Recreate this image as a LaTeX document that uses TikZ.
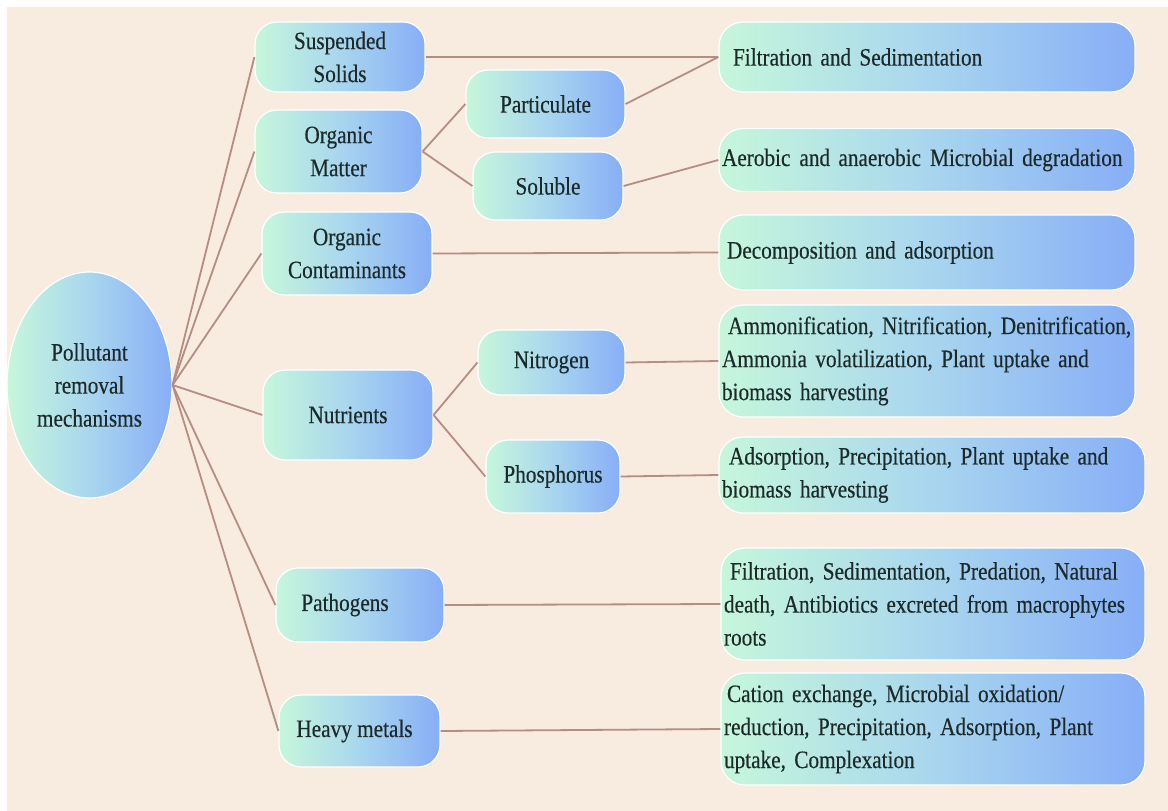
\documentclass[tikz,border=0pt]{standalone}
\usepackage{fontspec}
\setmainfont{Liberation Serif}[FakeStretch=0.85, FakeBold=0.4]
\usetikzlibrary{shapes.geometric}
\definecolor{paper}{HTML}{F8EBDF}
\definecolor{mint}{HTML}{C6F7DB}
\definecolor{sky}{HTML}{A9D6EE}
\definecolor{cornflower}{HTML}{87AEF7}
\definecolor{ink}{HTML}{1C2B2A}
\definecolor{twig}{HTML}{B68D82}
\newcommand{\boxfont}{\fontsize{25}{33}\selectfont}
\newcommand{\oneline}[1]{\mbox{#1}}
\tikzset{
  shade/.style={left color=mint, right color=cornflower, middle color=sky},
  topic/.style={shade, draw=white, line width=1.2pt, rounded corners=22pt,
    inner sep=0pt, align=center, text=ink, font=\boxfont},
  result/.style={shade, draw=white, line width=1.2pt, rounded corners=24pt,
    inner xsep=3pt, inner ysep=0pt, align=left, text=ink, font=\boxfont},
  hub/.style={shade, draw=white, line width=1.2pt, ellipse, inner sep=0pt,
    minimum width=165pt, minimum height=226pt, align=center, text=ink, font=\boxfont},
  link/.style={draw=twig, line width=1.8pt},
}
\begin{document}
\begin{tikzpicture}[x=1pt, y=-1pt]
  % page and paper
  \fill[white] (0,0) rectangle (1168,811);
  \fill[paper] (7,7) rectangle (1168,811);
  \useasboundingbox (0,0) rectangle (1168,811);

  % centre
  \node[hub] (root) at (89.5,385) {Pollutant\\removal\\mechanisms};

  % pollutant groups
  \node[topic, minimum width=170pt, minimum height=70pt] (ss) at (340,57) {Suspended\\Solids};
  \node[topic, minimum width=167pt, minimum height=83pt] (om) at (338.5,151.5) {Organic\\Matter};
  \node[topic, minimum width=170pt, minimum height=83pt] (oc) at (347,253.5) {Organic\\Contaminants};
  \node[topic, minimum width=170pt, minimum height=90pt] (nu) at (348,415) {Nutrients};
  \node[topic, minimum width=168pt, minimum height=74pt] (pa) at (360,605) {\hspace*{-30pt}Pathogens};
  \node[topic, minimum width=161pt, minimum height=72pt] (hm) at (359.5,731) {\hspace*{-10pt}Heavy metals};

  % sub-groups
  \node[topic, minimum width=159pt, minimum height=68pt] (part) at (545.5,104) {Particulate};
  \node[topic, minimum width=150pt, minimum height=68pt] (sol) at (548,186) {Soluble};
  \node[topic, minimum width=147pt, minimum height=65pt] (nit) at (551.5,362.5) {Nitrogen};
  \node[topic, minimum width=134pt, minimum height=73pt] (pho) at (553,476.5) {Phosphorus};

  % mechanisms
  \node[result, text width=410pt, minimum height=70pt] (r1) at (927,57)
    {\hspace*{11pt}\oneline{Filtration and Sedimentation}};
  \node[result, text width=410pt, minimum height=63pt] (r2) at (927,160)
    {\oneline{Aerobic\hspace{9pt}and anaerobic\hspace{9pt}Microbial degradation}};
  \node[result, text width=410pt, minimum height=75pt] (r3) at (927,252.5)
    {\hspace*{5pt}\oneline{Decomposition and adsorption}};
  \node[result, text width=410pt, minimum height=112pt] (r4) at (927,361)
    {\hspace*{6pt}\oneline{Ammonification, Nitrification, Denitrification,}\\
     \oneline{Ammonia volatilization, Plant uptake and}\\
     \oneline{biomass harvesting}};
  \node[result, text width=420pt, minimum height=76pt] (r5) at (932,475)
    {\hspace*{7pt}\oneline{Adsorption, Precipitation, Plant uptake and}\\
     \oneline{biomass harvesting}};
  \node[result, text width=418pt, minimum height=112pt] (r6) at (933,604)
    {\hspace*{6pt}\oneline{Filtration, Sedimentation, Predation, Natural}\\
     \oneline{death, Antibiotics excreted from macrophytes}\\
     \oneline{roots}};
  \node[result, text width=418pt, minimum height=112pt] (r7) at (933,729)
    {\hspace*{3pt}\oneline{Cation exchange, Microbial oxidation/}\\
     \oneline{reduction, Precipitation, Adsorption, Plant}\\
     \oneline{uptake, Complexation}};

  % connectors
  \foreach \g in {ss,om,oc,nu,pa,hm} \draw[link] (root.east) -- (\g.west);
  \draw[link] (om.east) -- (part.west);
  \draw[link] (om.east) -- (sol.west);
  \draw[link] (nu.east) -- (nit.west);
  \draw[link] (nu.east) -- (pho.west);
  \draw[link] (ss.east) -- (r1.west);
  \draw[link] (part.east) -- (r1.west);
  \draw[link] (sol.east) -- (r2.west);
  \draw[link] (oc.east) -- (r3.west);
  \draw[link] (nit.east) -- (r4.west);
  \draw[link] (pho.east) -- (r5.west);
  \draw[link] (pa.east) -- (r6.west);
  \draw[link] (hm.east) -- (r7.west);
\end{tikzpicture}
\end{document}
